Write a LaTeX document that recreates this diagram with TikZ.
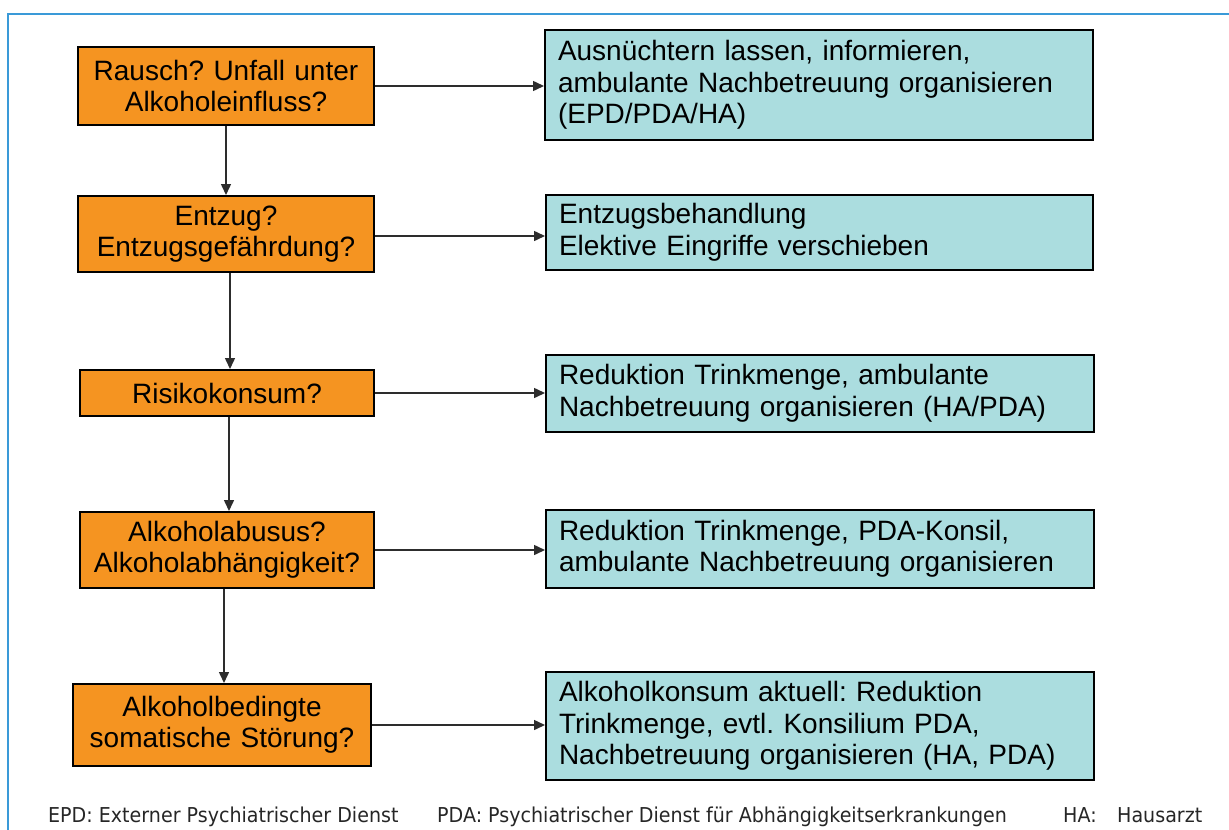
\documentclass[tikz,border=0pt]{standalone}
\usepackage{fontspec}
\setmainfont{Liberation Sans}
\newfontfamily\footfont[FakeStretch=0.93]{DejaVu Sans}
\usetikzlibrary{arrows.meta,calc}
\definecolor{frameblue}{RGB}{58,154,216}
\definecolor{qorange}{RGB}{245,148,33}
\definecolor{acyan}{RGB}{171,221,223}
\definecolor{linegray}{RGB}{45,45,45}
\frenchspacing
\begin{document}
\begin{tikzpicture}[x=1pt,y=-1pt,
  box/.style={draw=black, line width=2pt, inner ysep=0pt, font=\fontsize{28}{31.5}\selectfont},
  qbox/.style={box, fill=qorange, align=center, inner xsep=5pt},
  abox/.style={box, fill=acyan, align=left, inner xsep=13pt},
  arr/.style={draw=linegray, line width=1.5pt, -{Triangle[length=11pt,width=10pt]}},
  foot/.style={anchor=base west, inner sep=0pt, font=\footfont\fontsize{20.5}{24}\selectfont, text=black!85}]
\useasboundingbox (0,0) rectangle (1229,830);
\clip (0,0) rectangle (1229,830);
\draw[frameblue, line width=2.5pt] (8,900) -- (8,14) -- (1300,14);

% question boxes
\node[qbox, minimum width=296pt, minimum height=78pt, text width=286pt] (q1) at (226,86) {Rausch? Unfall unter\\Alkoholeinfluss?};
\node[qbox, minimum width=296pt, minimum height=76pt, text width=286pt] (q2) at (226,234) {Entzug?\\Entzugsgefährdung?};
\node[qbox, minimum width=294pt, minimum height=46pt, text width=284pt] (q3) at (227,393) {Risikokonsum?};
\node[qbox, minimum width=294pt, minimum height=76pt, text width=284pt] (q4) at (227,550) {Alkoholabusus?\\Alkoholabhängigkeit?};
\node[qbox, minimum width=298pt, minimum height=82pt, text width=288pt] (q5) at (222,725) {Alkoholbedingte\\somatische Störung?};

% action boxes
\node[abox, minimum width=548pt, minimum height=110pt, text width=522pt] (a1) at (819,85) {Ausnüchtern lassen, informieren,\\ambulante Nachbetreuung organisieren\\(EPD/PDA/HA)};
\node[abox, minimum width=547pt, minimum height=75pt, text width=521pt] (a2) at (819.5,232.5) {Entzugsbehandlung\\Elektive Eingriffe verschieben};
\node[abox, minimum width=548pt, minimum height=77pt, text width=522pt] (a3) at (820,393.5) {Reduktion Trinkmenge, ambulante\\Nachbetreuung organisieren (HA/PDA)};
\node[abox, minimum width=548pt, minimum height=78pt, text width=522pt] (a4) at (820,549) {Reduktion Trinkmenge, PDA-Konsil,\\ambulante Nachbetreuung organisieren};
\node[abox, minimum width=548pt, minimum height=108pt, text width=522pt] (a5) at (820,726) {Alkoholkonsum aktuell: Reduktion\\Trinkmenge, evtl. Konsilium PDA,\\Nachbetreuung organisieren (HA, PDA)};

% horizontal arrows
\draw[arr] (q1.east) -- (q1.east -| a1.west);
\draw[arr] ([yshift=-2pt]q2.east) -- ([yshift=-2pt]q2.east -| a2.west);
\draw[arr] (q3.east) -- (q3.east -| a3.west);
\draw[arr] (q4.east) -- (q4.east -| a4.west);
\draw[arr] (q5.east) -- (q5.east -| a5.west);

% vertical arrows
\draw[arr] (q1.south) -- (q1.south |- q2.north);
\draw[arr] ([xshift=4pt]q2.south) -- ([xshift=4pt]q2.south |- q3.north);
\draw[arr] ([xshift=2pt]q3.south) -- ([xshift=2pt]q3.south |- q4.north);
\draw[arr] ([xshift=-3pt]q4.south) -- ([xshift=-3pt]q4.south |- q5.north);

% footer
\node[foot] (f1) at (48,822) {EPD: Externer Psychiatrischer Dienst};
\node[foot] (f2) at (437,822) {PDA: Psychiatrischer Dienst für Abhängigkeitserkrankungen};
\node[foot] (f3) at (1063,822) {HA:};
\node[foot] (f4) at (1117,822) {Hausarzt};
\end{tikzpicture}
\end{document}
